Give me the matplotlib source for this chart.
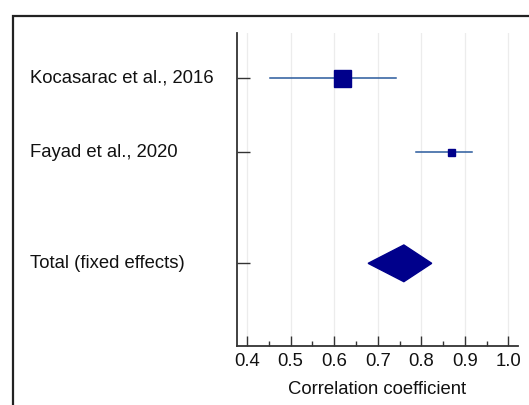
import numpy as np
import matplotlib.pyplot as plt
from matplotlib.patches import Polygon, Rectangle

plt.rcParams['font.family'] = ['Liberation Sans', 'DejaVu Sans']

# study data
studies = ['Kocasarac et al., 2016', 'Fayad et al., 2020']
est = [0.618, 0.868]
lo = [0.452, 0.789]
hi = [0.741, 0.917]
box_px = [17, 7]        # marker sizes in pixels
rows = [0, 1]

total_label = 'Total (fixed effects)'
total_est = 0.760
total_lo = 0.678
total_hi = 0.824
total_row = 2.5

xticks = [0.4, 0.5, 0.6, 0.7, 0.8, 0.9, 1.0]
minor = [0.45, 0.55, 0.65, 0.75, 0.85, 0.95]

W, H = 529, 405
fig = plt.figure(figsize=(W / 100, H / 100), dpi=100)
ax = fig.add_axes([237 / W, 1 - 345.7 / H, (518 - 237) / W, (345.7 - 33) / H])

ax.set_xlim(0.377, 1.022)
ax.set_ylim(3.613, -0.612)

for x in xticks:
    ax.axvline(x, color='#ececec', lw=0.9, zorder=0)

navy = '#00008b'
for r, e, l, h, s in zip(rows, est, lo, hi, box_px):
    ax.plot([l, h], [r, r], color='#2a5a9c', lw=1.1, zorder=2)
    ax.plot(e, r, 's', color=navy, markersize=s * 0.72, zorder=3)

# diamond height 36.7 px -> data units
dy = 36.7 / 2 / 74
ax.add_patch(Polygon([[total_lo, total_row], [total_est, total_row - dy],
                      [total_hi, total_row], [total_est, total_row + dy]],
                     closed=True, color=navy, zorder=3))

fs = 13.3
ax.set_yticks(rows + [total_row])
ax.set_yticklabels([])
for r, lab in zip(rows + [total_row], studies + [total_label]):
    ax.text(30 / W, 1 - (78.3 + (r * 74)) / H, lab, transform=fig.transFigure,
            ha='left', va='center', fontsize=fs, color='#111111')

ax.set_xticks(xticks)
ax.set_xticklabels([f'{x:.1f}' for x in xticks], fontsize=fs)
ax.set_xticks(minor, minor=True)
ax.tick_params(axis='x', which='major', direction='in', length=7, width=1, pad=5, colors='#333333', labelcolor='#111111')
ax.tick_params(axis='x', which='minor', direction='in', length=3.5, width=1, colors='#333333')
ax.tick_params(axis='y', direction='in', length=9, width=1, colors='#333333')
ax.set_xlabel('Correlation coefficient', fontsize=fs, labelpad=8, color='#111111')

for side in ['top', 'right']:
    ax.spines[side].set_visible(False)
for side in ['left', 'bottom']:
    ax.spines[side].set_color('#333333')
    ax.spines[side].set_linewidth(1.3)

# outer frame around the figure
fig.patches.append(Rectangle((12.5 / W, -0.1), 1.2, 1 - 16 / H + 0.1,
                             transform=fig.transFigure, fill=False,
                             edgecolor='#222222', lw=1.6))

fig.savefig('out.png', dpi=100)
